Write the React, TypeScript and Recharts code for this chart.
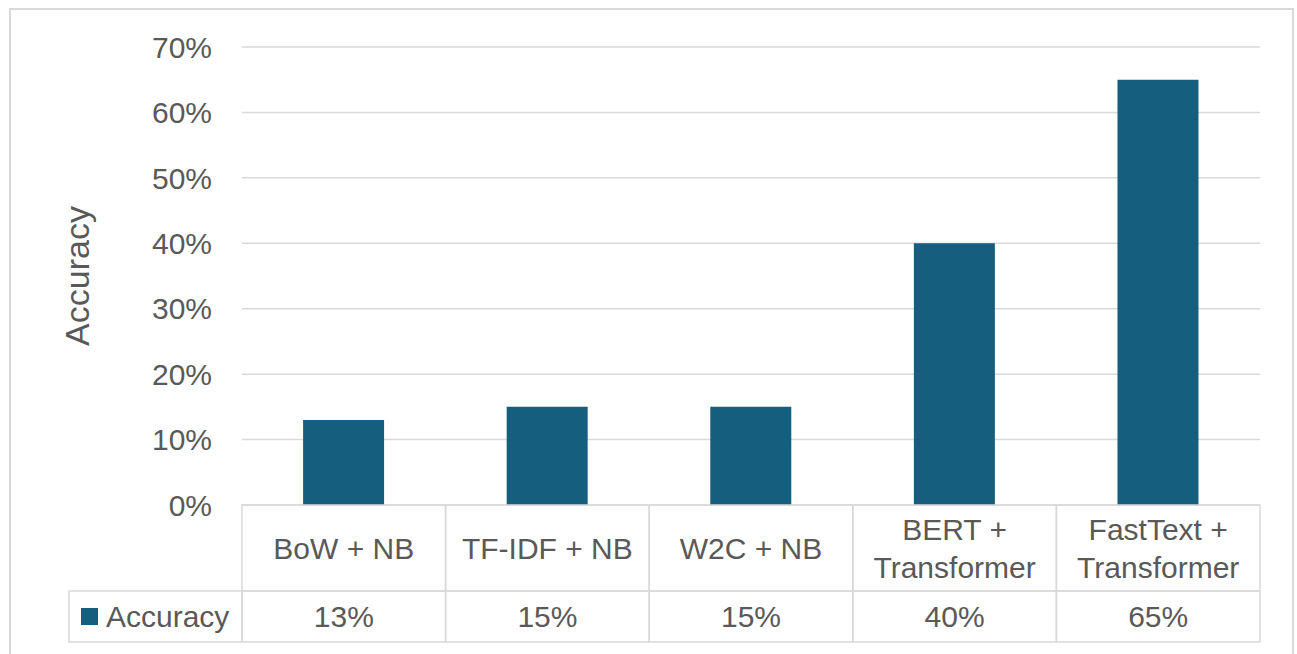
import React from "react";
import { Bar, BarChart, CartesianGrid, Label, XAxis, YAxis } from "recharts";

const categories = ["BoW + NB", "TF-IDF + NB", "W2C + NB", "BERT + Transformer", "FastText + Transformer"];
const accuracy = [0.13, 0.15, 0.15, 0.4, 0.65];
const yTicks = [0, 0.1, 0.2, 0.3, 0.4, 0.5, 0.6, 0.7];
const seriesName = "Accuracy";

const data = categories.map((name, i) => ({ name, accuracy: accuracy[i] }));

const BAR = "#165E7E";
const TEXT = "#595959";
const BORDER = "#d9d9d9";
const FONT = "'Liberation Sans', Arial, sans-serif";
const FS = 30;

const CAT_ROW = 86;
const VAL_ROW = 51;
const LEGEND_W = 173;

const pct = (v: number) => `${Math.round(v * 100)}%`;

function wrap(text: string, max = 12) {
  const lines: string[] = [];
  let cur = "";
  for (const w of text.split(" ")) {
    const next = cur ? `${cur} ${w}` : w;
    if (next.length > max && cur) {
      lines.push(cur);
      cur = w;
    } else {
      cur = next;
    }
  }
  if (cur) lines.push(cur);
  return lines;
}

function TableTick(props: any) {
  const { x, y, payload, index, width, visibleTicksCount } = props;
  const bw = width / (visibleTicksCount || categories.length);
  const left = x - bw / 2;
  const lines = wrap(payload.value);
  const lineH = 38;
  const midCat = y + CAT_ROW / 2;
  const midVal = y + CAT_ROW + VAL_ROW / 2;
  return (
    <g>
      <rect x={left} y={y} width={bw} height={CAT_ROW} fill="none" stroke={BORDER} strokeWidth={1.5} />
      <rect x={left} y={y + CAT_ROW} width={bw} height={VAL_ROW} fill="none" stroke={BORDER} strokeWidth={1.5} />
      {lines.map((l, i) => (
        <text
          key={i}
          x={x}
          y={midCat + (i - (lines.length - 1) / 2) * lineH}
          textAnchor="middle"
          dominantBaseline="central"
          fill={TEXT}
          fontSize={FS}
          fontFamily={FONT}
        >
          {l}
        </text>
      ))}
      <text x={x} y={midVal} textAnchor="middle" dominantBaseline="central" fill={TEXT} fontSize={FS} fontFamily={FONT}>
        {pct(accuracy[index])}
      </text>
      {index === 0 && (
        <g>
          <rect x={left - LEGEND_W} y={y + CAT_ROW} width={LEGEND_W} height={VAL_ROW} fill="none" stroke={BORDER} strokeWidth={1.5} />
          <rect x={left - LEGEND_W + 12} y={midVal - 8.5} width={17} height={17} fill={BAR} />
          <text x={left - LEGEND_W + 37} y={midVal} dominantBaseline="central" fill={TEXT} fontSize={FS} fontFamily={FONT}>
            {seriesName}
          </text>
        </g>
      )}
    </g>
  );
}

export default function App() {
  return (
    <div style={{ position: "absolute", left: 0, top: 0, width: 1297, height: 654, overflow: "hidden", background: "#fff" }}>
      <div
        style={{
          position: "absolute",
          left: 9,
          top: 8,
          width: 1285,
          height: 660,
          border: `2px solid ${BORDER}`,
          boxSizing: "border-box",
        }}
      />
      <BarChart
        width={1297}
        height={654}
        data={data}
        margin={{ top: 47, right: 37, bottom: 12, left: 0 }}
        barCategoryGap="30%"
        style={{ position: "absolute", left: 0, top: 0 }}
      >
        <CartesianGrid vertical={false} stroke={BORDER} strokeWidth={1.5} />
        <XAxis
          dataKey="name"
          height={137}
          axisLine={false}
          tickLine={false}
          tickSize={0}
          tickMargin={0}
          interval={0}
          tick={<TableTick />}
        />
        <YAxis
          width={242}
          domain={[0, 0.7]}
          ticks={yTicks}
          tickFormatter={pct}
          axisLine={false}
          tickLine={false}
          tickSize={0}
          tickMargin={30}
          tick={{ fill: TEXT, fontSize: FS, fontFamily: FONT }}
        >
          <Label
            content={({ viewBox }: any) => {
              const cx = viewBox.x + 77;
              const cy = viewBox.y + viewBox.height / 2;
              return (
                <text
                  x={cx}
                  y={cy}
                  transform={`rotate(-90 ${cx} ${cy})`}
                  textAnchor="middle"
                  dominantBaseline="central"
                  fill={TEXT}
                  fontSize={34}
                  fontFamily={FONT}
                >
                  {seriesName}
                </text>
              );
            }}
          />
        </YAxis>
        <Bar dataKey="accuracy" name={seriesName} fill={BAR} isAnimationActive={false} />
      </BarChart>
    </div>
  );
}
